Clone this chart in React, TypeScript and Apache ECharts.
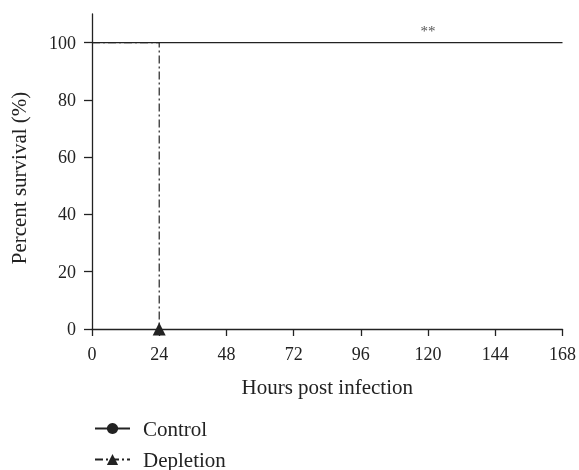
import React, { useEffect, useRef } from "react";
import * as echarts from "echarts";

const xTicks = [0, 24, 48, 72, 96, 120, 144, 168];
const yTicks = [0, 20, 40, 60, 80, 100];
const controlData: [number, number][] = [
  [0, 100],
  [168, 100],
];
const depletionData: [number, number][] = [
  [0, 100],
  [24, 100],
  [24, 0],
];
const significance = { x: 120, y: 100, text: "**" };

const FONT = "'Liberation Serif', 'DejaVu Serif', serif";
const INK = "#222";

export default function App() {
  const ref = useRef<HTMLDivElement>(null);
  useEffect(() => {
    if (!ref.current) return;
    const chart = echarts.init(ref.current, undefined, { renderer: "svg" });
    const legendBase = {
      orient: "horizontal",
      left: 94,
      padding: 0,
      itemWidth: 35,
      itemHeight: 14,
      textStyle: { fontFamily: FONT, fontSize: 21, color: INK, padding: [0, 0, 0, 8] },
    };
    chart.setOption({
      animation: false,
      textStyle: { fontFamily: FONT, color: INK },
      grid: { left: 92, right: 15, top: 14, bottom: 141, containLabel: false },
      legend: [
        { ...legendBase, top: 418, data: ["Control"] },
        { ...legendBase, top: 449, data: ["Depletion"] },
      ],
      xAxis: {
        type: "value",
        min: 0,
        max: 168,
        interval: 24,
        name: "Hours post infection",
        nameLocation: "middle",
        nameGap: 47,
        nameTextStyle: { fontFamily: FONT, fontSize: 21, color: INK },
        axisLine: { show: true, lineStyle: { color: INK, width: 1.3 } },
        axisTick: { show: true, length: 7, lineStyle: { color: INK, width: 1.3 } },
        axisLabel: { fontFamily: FONT, fontSize: 18, color: INK, margin: 16, customValues: xTicks },
        splitLine: { show: false },
      },
      yAxis: {
        type: "value",
        min: 0,
        max: 110,
        axisLine: { show: true, lineStyle: { color: INK, width: 1.3 } },
        axisTick: { show: true, length: 8, customValues: yTicks, lineStyle: { color: INK, width: 1.3 } },
        axisLabel: { fontFamily: FONT, fontSize: 18, color: INK, margin: 16, customValues: yTicks },
        splitLine: { show: false },
      },
      graphic: [
        {
          type: "text",
          x: 19,
          y: 178,
          rotation: Math.PI / 2,
          style: {
            text: "Percent survival (%)",
            fontFamily: FONT,
            fontSize: 21,
            fill: INK,
            align: "center",
            verticalAlign: "middle",
          },
        },
      ],
      series: [
        {
          name: "Control",
          type: "line",
          data: controlData,
          symbol: "circle",
          symbolSize: 11,
          showSymbol: false,
          itemStyle: { color: INK },
          lineStyle: { color: INK, width: 1.4 },
          markPoint: {
            symbol: "circle",
            symbolSize: 0,
            data: [{ coord: [significance.x, significance.y], value: significance.text }],
            label: {
              show: true,
              position: "top",
              distance: 4,
              formatter: significance.text,
              fontFamily: FONT,
              fontSize: 15,
              color: "#555",
            },
          },
          z: 2,
        },
        {
          name: "Depletion",
          type: "line",
          data: depletionData.map((d, i) =>
            i === depletionData.length - 1 ? { value: d } : { value: d, symbol: "none" }
          ),
          symbol: "triangle",
          symbolSize: 13,
          itemStyle: { color: INK },
          lineStyle: { color: INK, width: 1.2, type: [8, 3, 2, 3] },
          z: 3,
        },
      ],
    });
    return () => chart.dispose();
  }, []);
  return (
    <div
      ref={ref}
      style={{ position: "fixed", left: 0, top: 0, width: 579, height: 470 }}
    />
  );
}
